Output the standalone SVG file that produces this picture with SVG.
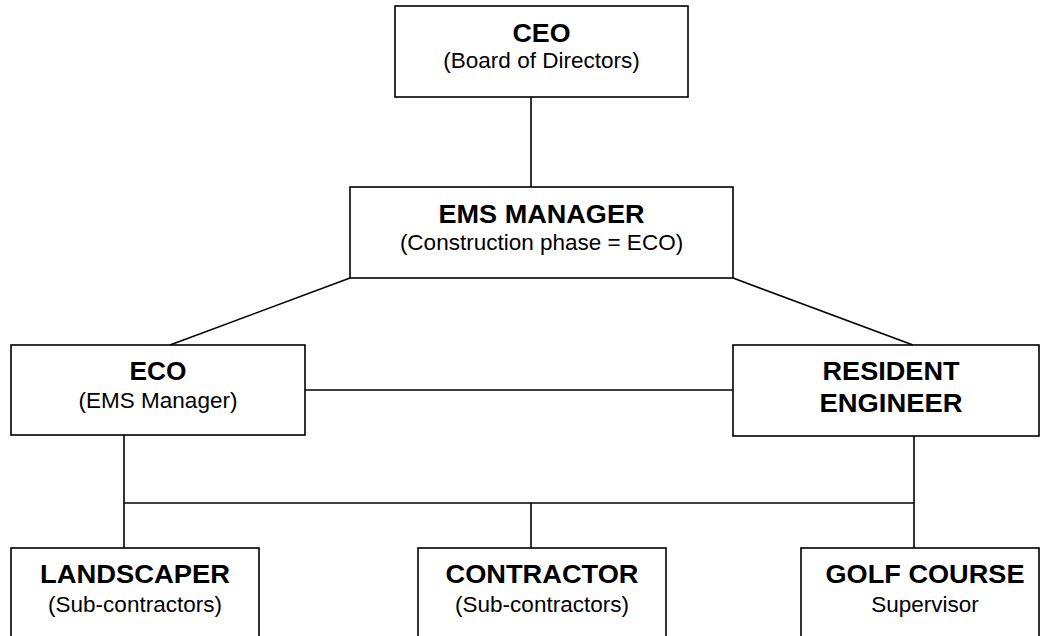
<svg xmlns="http://www.w3.org/2000/svg" width="1040" height="636" viewBox="0 0 1040 636">
<style>
.box{fill:#fff;stroke:#000;stroke-width:1.6}
.ln{stroke:#000;stroke-width:1.6;fill:none}
.t{font-family:"Liberation Sans",Arial,sans-serif;text-anchor:middle;fill:#000}
.b{font-weight:bold;font-size:25px}
.r{font-size:22.5px}
</style>
<rect width="1040" height="636" fill="#fff"/>
<g id="connectors">
<line class="ln" x1="531" y1="97" x2="531" y2="187"/>
<line class="ln" x1="350" y1="278" x2="170" y2="345"/>
<line class="ln" x1="733" y1="278" x2="913" y2="345"/>
<line class="ln" x1="305" y1="390" x2="733" y2="390"/>
<line class="ln" x1="124" y1="435" x2="124" y2="548"/>
<line class="ln" x1="914" y1="436" x2="914" y2="548"/>
<line class="ln" x1="124" y1="503" x2="914" y2="503"/>
<line class="ln" x1="531" y1="503" x2="531" y2="548"/>
</g>
<g id="ceo">
<rect class="box" x="395" y="6" width="293" height="91"/>
<text class="t b" x="541.5" y="42" textLength="58" lengthAdjust="spacingAndGlyphs">CEO</text>
<text class="t r" x="541.5" y="68">(Board of Directors)</text>
</g>
<g id="ems-manager">
<rect class="box" x="350" y="187" width="383" height="91"/>
<text class="t b" x="541.5" y="223" textLength="206" lengthAdjust="spacingAndGlyphs">EMS MANAGER</text>
<text class="t r" x="541.5" y="250">(Construction phase = ECO)</text>
</g>
<g id="eco">
<rect class="box" x="11" y="345" width="294" height="90"/>
<text class="t b" x="158" y="380" textLength="57" lengthAdjust="spacingAndGlyphs">ECO</text>
<text class="t r" x="158" y="408">(EMS Manager)</text>
</g>
<g id="resident-engineer">
<rect class="box" x="733" y="345" width="306" height="91"/>
<text class="t b" x="891" y="380" textLength="137" lengthAdjust="spacingAndGlyphs">RESIDENT</text>
<text class="t b" x="891" y="412" textLength="143" lengthAdjust="spacingAndGlyphs">ENGINEER</text>
</g>
<g id="landscaper">
<rect class="box" x="11" y="548" width="248" height="100"/>
<text class="t b" x="135" y="583" textLength="190" lengthAdjust="spacingAndGlyphs">LANDSCAPER</text>
<text class="t r" x="135" y="612">(Sub-contractors)</text>
</g>
<g id="contractor">
<rect class="box" x="418" y="548" width="248" height="100"/>
<text class="t b" x="542" y="583" textLength="193" lengthAdjust="spacingAndGlyphs">CONTRACTOR</text>
<text class="t r" x="542" y="612">(Sub-contractors)</text>
</g>
<g id="golf-course">
<rect class="box" x="801" y="548" width="238" height="100"/>
<text class="t b" x="925" y="583" textLength="199" lengthAdjust="spacingAndGlyphs">GOLF COURSE</text>
<text class="t r" x="925" y="612">Supervisor</text>
</g>
</svg>
